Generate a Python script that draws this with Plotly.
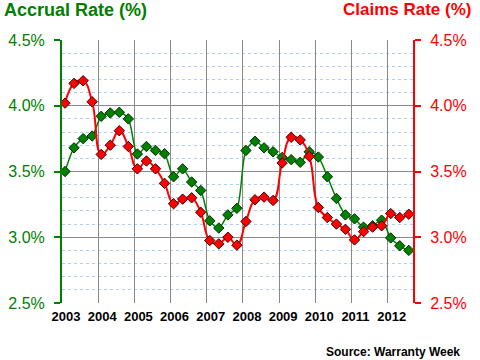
import plotly.graph_objects as go

# Quarterly data, 2003 Q1 .. 2012 Q3
years = list(range(2003, 2013))
quarters = [(y, q) for y in years for q in (1, 2, 3, 4)][:39]

accrual_rate = [3.50, 3.68, 3.75, 3.77, 3.92, 3.945, 3.95, 3.90,
                3.633, 3.69, 3.66, 3.635, 3.46, 3.52, 3.42, 3.356,
                3.125, 3.07, 3.17, 3.22, 3.66, 3.73, 3.68, 3.65,
                3.607, 3.59, 3.57, 3.65, 3.61, 3.46, 3.295, 3.17,
                3.14, 3.077, 3.087, 3.13, 2.995, 2.935, 2.90]

claims_rate = [4.02, 4.17, 4.19, 4.03, 3.63, 3.70, 3.81, 3.69,
               3.52, 3.58, 3.52, 3.41, 3.255, 3.29, 3.30, 3.19,
               2.975, 2.95, 3.00, 2.94, 3.12, 3.285, 3.305, 3.28,
               3.565, 3.76, 3.74, 3.615, 3.226, 3.15, 3.10, 3.06,
               2.98, 3.043, 3.077, 3.087, 3.18, 3.15, 3.175]

year_labels = [str(y) for y in years]
y_major = [2.5, 3.0, 3.5, 4.0, 4.5]
y_major_text = ["2.5%", "3.0%", "3.5%", "4.0%", "4.5%"]
y_solid_minor = [2.7, 2.9, 3.1, 3.3, 3.7, 3.9, 4.1, 4.3]

x = [y + (q - 1) * 0.25 + 1 / 12 for (y, q) in quarters]

GREEN = "#008000"
RED = "#ff0000"
GRAY = "#8a8a8a"
LBLUE = "#a8d0f8"
FONT = "Liberation Sans, Arial, sans-serif"

fig = go.Figure()
fig.add_trace(go.Scatter(
    x=x, y=claims_rate, mode="lines+markers", yaxis="y2",
    line=dict(color=RED, width=2, shape="spline", smoothing=1.3),
    marker=dict(symbol="diamond", size=8, color=RED, line=dict(color="#400000", width=1)),
    showlegend=False, hoverinfo="x+y"))
fig.add_trace(go.Scatter(
    x=x, y=accrual_rate, mode="lines+markers",
    line=dict(color=GREEN, width=1.5, shape="spline", smoothing=0.8),
    marker=dict(symbol="diamond", size=8, color=GREEN, line=dict(color="#003000", width=1)),
    showlegend=False, hoverinfo="x+y"))

yr = [2.5, 4.5]
W, H = 351, 263
fig.update_layout(
    width=480, height=360,
    margin=dict(l=62, r=67, t=40, b=57, autoexpand=False),
    paper_bgcolor="white", plot_bgcolor="white",
    font=dict(family=FONT),
    xaxis=dict(range=[2003, 2012.70], tickvals=years, ticktext=year_labels,
               showgrid=True, gridcolor=GRAY, gridwidth=1, zeroline=False,
               ticks="", ticklabelshift=4, ticklabelstandoff=4, automargin=False,
               tickfont=dict(family=FONT, size=13, color="black", weight="bold"),
               showline=False),
    yaxis=dict(range=yr, tickvals=y_major, ticktext=y_major_text, automargin=False,
               showgrid=True, gridcolor=GRAY, gridwidth=1, zeroline=False,
               showline=True, linecolor=GREEN, linewidth=2,
               ticks="outside", ticklen=6, tickwidth=2, tickcolor=GREEN,
               ticklabelstandoff=6,
               tickfont=dict(family=FONT, size=16, color=GREEN),
               minor=dict(tick0=2.5, dtick=0.1, showgrid=True, gridcolor=LBLUE,
                          griddash="dot", gridwidth=1, ticks="")),
    yaxis2=dict(range=yr, overlaying="y", side="right", tickvals=y_major,
                ticktext=y_major_text, showgrid=False, zeroline=False, automargin=False,
                showline=True, linecolor=RED, linewidth=2,
                ticks="outside", ticklen=6, tickwidth=2, tickcolor=RED,
                ticklabelstandoff=6,
                tickfont=dict(family=FONT, size=16, color=RED)),
    yaxis3=dict(range=yr, overlaying="y", side="left", tickvals=y_solid_minor,
                showgrid=True, gridcolor=LBLUE, gridwidth=1, showticklabels=False,
                ticks="", showline=False, zeroline=False, automargin=False),
    yaxis4=dict(range=yr, overlaying="y", side="left", tickvals=y_major,
                showgrid=False, showticklabels=False, ticks="inside", ticklen=5,
                tickwidth=2, tickcolor=GREEN, showline=False, zeroline=False, automargin=False),
    yaxis5=dict(range=yr, overlaying="y", side="right", tickvals=y_major,
                showgrid=False, showticklabels=False, ticks="inside", ticklen=5,
                tickwidth=2, tickcolor=RED, showline=False, zeroline=False, automargin=False),
    annotations=[
        dict(text="Accrual Rate (%)", xref="paper", yref="paper", x=-60/W, y=1 + 30/H,
             xanchor="left", yanchor="middle", showarrow=False,
             font=dict(family=FONT, size=18, color=GREEN, weight="bold")),
        dict(text="Claims Rate (%)", xref="paper", yref="paper", x=1 + 60/W, y=1 + 30/H,
             xanchor="right", yanchor="middle", showarrow=False,
             font=dict(family=FONT, size=17, color=RED, weight="bold")),
        dict(text="Source: Warranty Week", xref="paper", yref="paper", x=1 + 49/W, y=-49/H,
             xanchor="right", yanchor="middle", showarrow=False,
             font=dict(family=FONT, size=12, color="black", weight="bold")),
    ],
)

fig.write_html("out.html", config={"displayModeBar": False},
               post_script="document.body.style.margin='0';document.body.style.overflow='hidden';")
